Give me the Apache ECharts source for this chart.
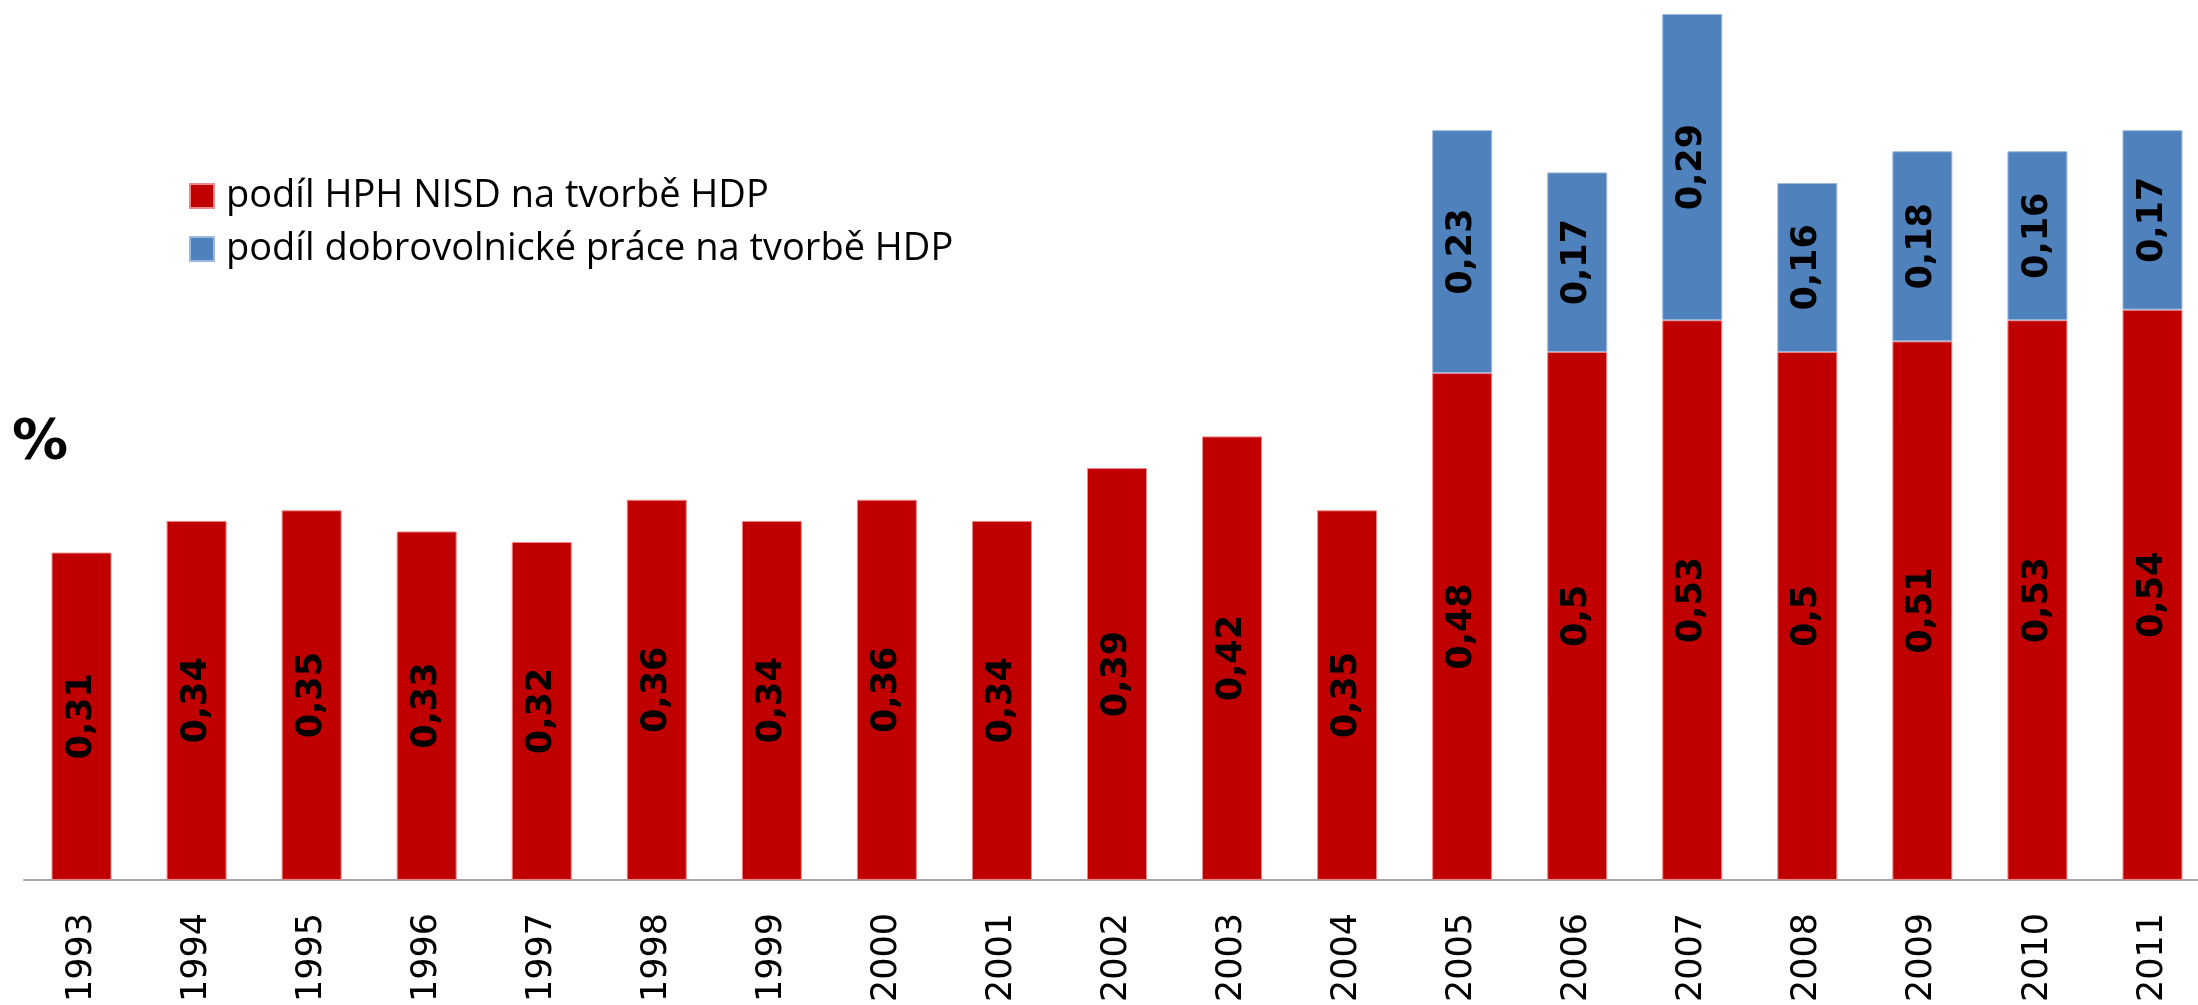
<!DOCTYPE html>
<html>
<head>
<meta charset="utf-8">
<script src="https://cdn.jsdelivr.net/npm/echarts@6/dist/echarts.min.js"></script>
<style>
  html, body { margin: 0; padding: 0; background: #fff; overflow: hidden; }
  #chart { width: 2230px; height: 1005px; }
</style>
</head>
<body>
<div id="chart"></div>
<script>
const years = ['1993', '1994', '1995', '1996', '1997', '1998', '1999', '2000', '2001', '2002',
  '2003', '2004', '2005', '2006', '2007', '2008', '2009', '2010', '2011']
const hphNisd = [0.31, 0.34, 0.35, 0.33, 0.32, 0.36, 0.34, 0.36, 0.34, 0.39,
  0.42, 0.35, 0.48, 0.5, 0.53, 0.5, 0.51, 0.53, 0.54]
const dobrovolnici = [null, null, null, null, null, null, null, null, null, null,
  null, null, 0.23, 0.17, 0.29, 0.16, 0.18, 0.16, 0.17]
const seriesNames = ['podíl HPH NISD na tvorbě HDP', 'podíl dobrovolnické práce na tvorbě HDP']

// chart div is a bit wider than the window, the last bar sits at the right edge
const chart = echarts.init(document.getElementById('chart'))

const valueLabel = {
  show: true,
  position: 'inside',
  rotate: 90,
  color: '#000',
  fontFamily: 'DejaVu Sans',
  fontWeight: 'bold',
  fontSize: 35,
  formatter: p => String(p.value).replace('.', ',')
}

const option = {
  animation: false,
  backgroundColor: '#fff',
  title: {
    text: '%',
    left: 7,
    top: 410,
    textStyle: {
      fontFamily: 'DejaVu Sans',
      fontWeight: 'bold',
      fontSize: 56,
      color: '#000'
    }
  },
  legend: {
    orient: 'vertical',
    left: 189,
    top: 176,
    padding: 0,
    itemWidth: 24,
    itemHeight: 24,
    itemGap: 13,
    icon: 'rect',
    data: seriesNames,
    textStyle: {
      fontFamily: 'Open Sans',
      fontSize: 38,
      lineHeight: 40,
      color: '#000',
      padding: [0, 0, 0, 7]
    }
  },
  grid: {
    left: 24,
    width: 2186,
    top: 14,
    bottom: 120.5,
    containLabel: false
  },
  xAxis: {
    type: 'category',
    data: years,
    axisLine: { lineStyle: { color: '#a6a6a6', width: 2 } },
    axisTick: { show: false },
    axisLabel: {
      rotate: 90,
      margin: 33,
      color: '#000',
      fontFamily: 'DejaVu Sans',
      fontSize: 35
    }
  },
  yAxis: {
    type: 'value',
    min: 0,
    max: 0.82,
    show: false,
    splitLine: { show: false }
  },
  series: [
    {
      name: seriesNames[0],
      type: 'bar',
      stack: 'hdp',
      barWidth: 60,
      itemStyle: { color: '#c00000', borderColor: '#e88', borderWidth: 1 },
      label: valueLabel,
      data: hphNisd
    },
    {
      name: seriesNames[1],
      type: 'bar',
      stack: 'hdp',
      barWidth: 60,
      itemStyle: { color: '#4f81bd', borderColor: '#9bb9de', borderWidth: 1 },
      label: valueLabel,
      data: dobrovolnici
    }
  ]
}

chart.setOption(option)
</script>
</body>
</html>
